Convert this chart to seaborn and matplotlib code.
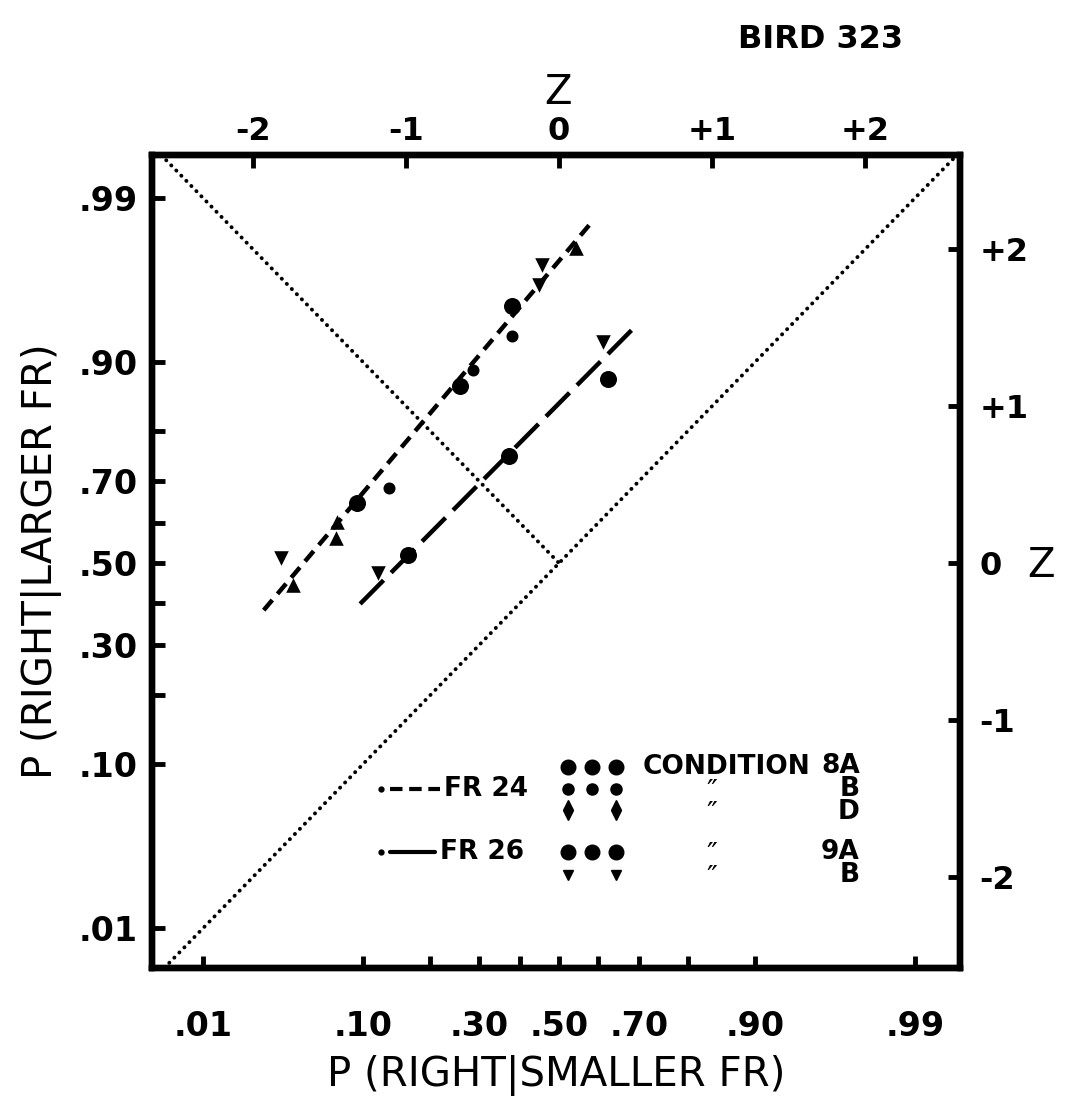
import matplotlib
matplotlib.use("Agg")
import matplotlib.pyplot as plt
import seaborn as sns
import pandas as pd
from statistics import NormalDist

# valores, en unidades z
c8a_x = [-1.32, -0.65, -0.31]
c8a_y = [0.38, 1.13, 1.64]
c8b_x = [-1.11, -0.56, -0.31]
c8b_y = [0.48, 1.23, 1.45]
c8d_up_x = [-1.74, -1.46, -1.45, 0.11]
c8d_up_y = [-0.14, 0.16, 0.26, 2.01]
c8d_dn_x = [-1.82, -0.13, -0.11]
c8d_dn_y = [0.03, 1.77, 1.90]
c9a_x = [-0.99, -0.33, 0.32]
c9a_y = [0.05, 0.68, 1.17]
c9b_x = [-1.18, 0.29]
c9b_y = [-0.06, 1.41]

# rectas ajustadas
fr24_x = [-1.93, 0.22]
fr24_y = [-0.30, 2.18]
fr26_x = [-1.30, 0.48]
fr26_y = [-0.26, 1.49]

prob_ticks = [.01, .10, .20, .30, .40, .50, .60, .70, .80, .90, .99]
prob_labels = [".01", ".10", "", ".30", "", ".50", "", ".70", "", ".90", ".99"]
z_ticks = [-2, -1, 0, 1, 2]
z_labels = ["-2", "-1", "0", "+1", "+2"]

sns.set_style("white")
plt.rcParams['font.family'] = ['DejaVu Sans']
plt.rcParams.update({"text.color": "black", "axes.labelcolor": "black",
                     "xtick.color": "black", "ytick.color": "black",
                     "axes.edgecolor": "black"})

fig = plt.figure(figsize=(10.75, 11.02), dpi=100)
ax = fig.add_axes([0.1414, 0.1216, 0.7516, 0.7377])
lim_x = (-2.66, 2.62)
lim_y = (-2.58, 2.60)

# diagonales punteadas
dots = (0, (0.05, 1.8))
ax.plot([-2.58, 2.58], [-2.58, 2.58], color="black", lw=2.8, ls=dots, dash_capstyle="round")
ax.plot([-2.6, 0], [2.6, 0], color="black", lw=2.8, ls=dots, dash_capstyle="round")

# lineas de ajuste
sns.lineplot(x=fr24_x, y=fr24_y, ax=ax, color="black", lw=3.2, linestyle=(0, (3.0, 1.8)))
sns.lineplot(x=fr26_x, y=fr26_y, ax=ax, color="black", lw=3.2, linestyle=(0, (7.5, 2.4)))

# puntos
sns.scatterplot(x=c8a_x, y=c8a_y, ax=ax, color="black", marker="o", s=150, linewidth=0, zorder=5)
sns.scatterplot(x=c8b_x, y=c8b_y, ax=ax, color="black", marker="o", s=75, linewidth=0, zorder=5)
sns.scatterplot(x=c8d_up_x, y=c8d_up_y, ax=ax, color="black", marker="^", s=110, linewidth=0, zorder=5)
sns.scatterplot(x=c8d_dn_x, y=c8d_dn_y, ax=ax, color="black", marker="v", s=110, linewidth=0, zorder=5)
sns.scatterplot(x=c9a_x, y=c9a_y, ax=ax, color="black", marker="o", s=150, linewidth=0, zorder=5)
sns.scatterplot(x=c9b_x, y=c9b_y, ax=ax, color="black", marker="v", s=110, linewidth=0, zorder=5)

ax.set_xlim(lim_x)
ax.set_ylim(lim_y)

nd = NormalDist()
pz = [nd.inv_cdf(p) for p in prob_ticks]
ax.set_xticks(pz)
ax.set_xticklabels(prob_labels)
ax.set_yticks(pz)
ax.set_yticklabels(prob_labels)
ax.tick_params(direction="in", length=9, width=3.5, labelsize=24, color="black")
ax.tick_params(axis="x", pad=30)
ax.tick_params(axis="y", pad=10)
for lab in ax.get_xticklabels() + ax.get_yticklabels():
    lab.set_fontweight("bold")

ax.set_xlabel("P (RIGHT|SMALLER FR)", fontsize=29, labelpad=9)
ax.set_ylabel("P (RIGHT|LARGER FR)", fontsize=29, labelpad=12)

# eje z superior y derecho
axt = ax.twiny()
axt.set_xlim(lim_x)
axt.set_xticks(z_ticks)
axt.set_xticklabels(z_labels)
axt.tick_params(direction="in", length=9, width=3.5, labelsize=23, pad=6)
axr = ax.twinx()
axr.set_ylim(lim_y)
axr.set_yticks(z_ticks)
axr.set_yticklabels(z_labels)
axr.tick_params(direction="in", length=9, width=3.5, labelsize=23, pad=14)
for a in (axt, axr):
    for lab in a.get_xticklabels() + a.get_yticklabels():
        lab.set_fontweight("bold")
for a in (ax, axt, axr):
    for sp in a.spines.values():
        sp.set_linewidth(4.5)
        sp.set_color("black")
axr.set_yticks([], minor=True)

fig.text(0.519, 0.916, "Z", fontsize=29, ha="center", va="center")
fig.text(0.968, 0.486, "Z", fontsize=29, ha="center", va="center")
fig.text(0.763, 0.964, "BIRD 323", fontsize=23, fontweight="bold", ha="center", va="center")

# leyenda dibujada a mano (coordenadas de ejes)
T = ax.transAxes
kw = dict(transform=T, color="black", clip_on=False, linestyle="none")
rows = [0.247, 0.220, 0.194, 0.143, 0.115]
cols = [0.515, 0.545, 0.574]
ax.plot(cols, [rows[0]] * 3, marker="o", ms=10.5, **kw)
ax.plot(cols, [rows[1]] * 3, marker="o", ms=8, **kw)
ax.plot([cols[0], cols[2]], [rows[2] + 0.007] * 2, marker="^", ms=7.5, **kw)
ax.plot([cols[0], cols[2]], [rows[2] - 0.006] * 2, marker="v", ms=7.5, **kw)
ax.plot(cols, [rows[3]] * 3, marker="o", ms=10.5, **kw)
ax.plot([cols[0], cols[2]], [rows[4]] * 2, marker="v", ms=7.5, **kw)

txt = dict(transform=T, fontsize=19, fontweight="bold")
ax.text(0.607, rows[0], "CONDITION", ha="left", va="center", **txt)
ax.text(0.876, sum(rows[:3]) / 3, "8A\nB\nD", ha="right", va="center",
        multialignment="right", linespacing=0.84, **txt)
ax.text(0.876, sum(rows[3:]) / 2, "9A\nB", ha="right", va="center",
        multialignment="right", linespacing=0.86, **txt)
ax.text(0.693, (rows[1] + rows[2]) / 2 - 0.004, "\u2033\n\u2033", ha="center", va="center",
        transform=T, fontsize=21, linespacing=0.74)
ax.text(0.693, (rows[3] + rows[4]) / 2 - 0.004, "\u2033\n\u2033", ha="center", va="center",
        transform=T, fontsize=21, linespacing=0.76)

ax.plot([0.283], [rows[1]], marker="o", ms=3.5, **kw)
ax.plot([0.295, 0.356], [rows[1]] * 2, transform=T, color="black", lw=3, ls=(0, (3.0, 1.6)))
ax.text(0.361, rows[1], "FR 24", ha="left", va="center", **txt)
ax.plot([0.283], [rows[3]], marker="o", ms=3.5, **kw)
ax.plot([0.295, 0.350], [rows[3]] * 2, transform=T, color="black", lw=3)
ax.text(0.356, rows[3], "FR 26", ha="left", va="center", **txt)

fig.savefig("out.png", dpi=100)
